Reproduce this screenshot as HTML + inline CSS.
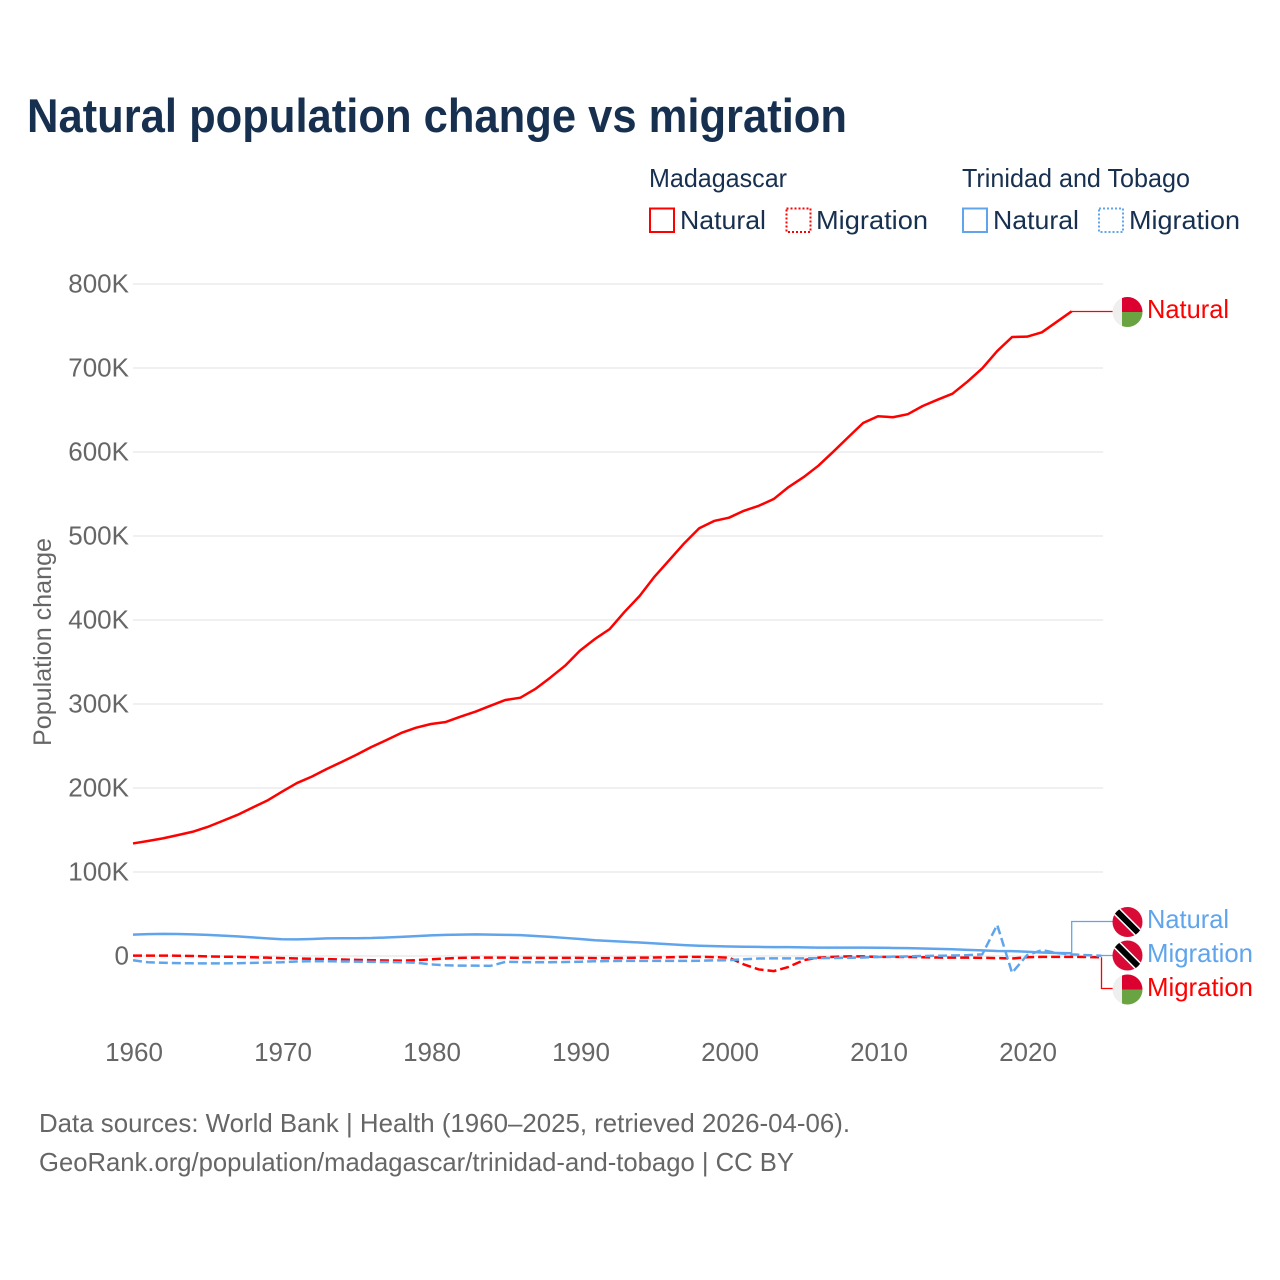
<!DOCTYPE html>
<html lang="en">
<head>
<meta charset="utf-8">
<title>Natural population change vs migration</title>
<style>
html,body{margin:0;padding:0;background:#fff}
svg{display:block}
text{font-family:"Liberation Sans",sans-serif}
</style>
</head>
<body>
<svg id="chart" xmlns="http://www.w3.org/2000/svg" width="1280" height="1280" viewBox="0 0 1280 1280">
  <defs>
    <clipPath id="c1"><circle cx="1127.5" cy="312" r="15"/></clipPath>
    <clipPath id="c2"><circle cx="1127.5" cy="922" r="15"/></clipPath>
    <clipPath id="c3"><circle cx="1127.5" cy="955.5" r="15"/></clipPath>
    <clipPath id="c4"><circle cx="1127.5" cy="989.5" r="15"/></clipPath>
  </defs>
  <text x="27" y="132" font-size="47" font-weight="700" fill="#17304f" textLength="820" lengthAdjust="spacingAndGlyphs">Natural population change vs migration</text>

  <g font-size="26" fill="#17304f">
    <text x="649" y="187" textLength="138" lengthAdjust="spacingAndGlyphs">Madagascar</text>
    <text x="962" y="187" textLength="228" lengthAdjust="spacingAndGlyphs">Trinidad and Tobago</text>
    <rect x="650" y="208.5" width="24" height="23.5" fill="none" stroke="#ff0000" stroke-width="2"/>
    <text x="680" y="229" textLength="86" lengthAdjust="spacingAndGlyphs">Natural</text>
    <rect x="786.5" y="208.5" width="24" height="23.5" fill="none" stroke="#ff0000" stroke-width="2" stroke-dasharray="2 2"/>
    <text x="816" y="229" textLength="112" lengthAdjust="spacingAndGlyphs">Migration</text>
    <rect x="963" y="208.5" width="24" height="23.5" fill="none" stroke="#60a5ec" stroke-width="2"/>
    <text x="993" y="229" textLength="86" lengthAdjust="spacingAndGlyphs">Natural</text>
    <rect x="1099" y="208.5" width="24" height="23.5" fill="none" stroke="#60a5ec" stroke-width="2" stroke-dasharray="2 2"/>
    <text x="1129" y="229" textLength="111" lengthAdjust="spacingAndGlyphs">Migration</text>
  </g>

  <g id="grid"></g>
  <g id="yticks" font-size="26" fill="#666666"></g>
  <g id="xticks" font-size="26" fill="#666666"></g>
  <text transform="translate(51,642) rotate(-90)" text-anchor="middle" font-size="25" fill="#666666" textLength="208" lengthAdjust="spacingAndGlyphs">Population change</text>

  <g id="leaders" fill="none" stroke-width="1.3"></g>
  <g id="series" fill="none" stroke-width="2.5" stroke-linejoin="round"></g>

  <g clip-path="url(#c1)">
    <rect x="1112" y="296" width="31" height="32" fill="#efefef"/>
    <rect x="1122" y="296" width="21" height="16" fill="#dc0030"/>
    <rect x="1122" y="312" width="21" height="16" fill="#6aa342"/>
  </g>
  <g clip-path="url(#c2)">
    <rect x="1112" y="906" width="31" height="32" fill="#d90a35"/>
    <line x1="1113" y1="907.5" x2="1142" y2="936.5" stroke="#fff" stroke-width="9"/>
    <line x1="1113" y1="907.5" x2="1142" y2="936.5" stroke="#000" stroke-width="6"/>
  </g>
  <g clip-path="url(#c3)">
    <rect x="1112" y="940" width="31" height="32" fill="#d90a35"/>
    <line x1="1113" y1="941" x2="1142" y2="970" stroke="#fff" stroke-width="9"/>
    <line x1="1113" y1="941" x2="1142" y2="970" stroke="#000" stroke-width="6"/>
  </g>
  <g clip-path="url(#c4)">
    <rect x="1112" y="974" width="31" height="32" fill="#efefef"/>
    <rect x="1122" y="974" width="21" height="15.5" fill="#dc0030"/>
    <rect x="1122" y="989.5" width="21" height="16" fill="#6aa342"/>
  </g>

  <g font-size="26">
    <text x="1147" y="318" fill="#ff0000" textLength="82" lengthAdjust="spacingAndGlyphs">Natural</text>
    <text x="1147" y="928" fill="#60a5ec" textLength="82" lengthAdjust="spacingAndGlyphs">Natural</text>
    <text x="1147" y="962" fill="#60a5ec" textLength="106" lengthAdjust="spacingAndGlyphs">Migration</text>
    <text x="1147" y="996" fill="#ff0000" textLength="106" lengthAdjust="spacingAndGlyphs">Migration</text>
  </g>

  <g font-size="26" fill="#666666">
    <text x="39" y="1132" textLength="811" lengthAdjust="spacingAndGlyphs">Data sources: World Bank | Health (1960–2025, retrieved 2026-04-06).</text>
    <text x="39" y="1171" textLength="755" lengthAdjust="spacingAndGlyphs">GeoRank.org/population/madagascar/trinidad-and-tobago | CC BY</text>
  </g>
</svg>
<script>
const startYear = 1960;
const xTickYears = [1960, 1970, 1980, 1990, 2000, 2010, 2020];
const yTickValues = [0, 100, 200, 300, 400, 500, 600, 700, 800];
const madagascarNatural = [134,136.9,140,143.9,147.9,153.6,160.7,167.9,176.5,184.9,195.6,205.9,213.5,222.6,231,239.6,248.8,257,265.5,271.8,276.2,278.6,285,291,298,304.8,307.5,317.9,331.3,345.6,363.5,377.4,389.3,409.9,428.6,451.6,471.4,491.4,509.2,517.9,521.8,530,536,544,558.3,570,583.7,600.4,617.6,634.5,642.6,641.4,645,654.8,662.3,669.4,683.7,699.6,720.2,736.9,737.3,742.5,755,767.5];
const madagascarMigration = [0.5,0.5,0.5,0.3,0,-0.5,-0.8,-1,-1.5,-2,-2.5,-3,-3.3,-3.7,-4.2,-4.6,-5,-5.3,-5.5,-5,-4,-3,-2.2,-2,-2,-2,-2.2,-2.2,-2.2,-2.2,-2.3,-2.5,-2.5,-2.3,-2,-1.8,-1.5,-1,-1,-1.3,-2,-10,-16,-18,-13,-5,-2,-1,-0.5,-0.5,-1,-1,-1.2,-1.5,-1.8,-2,-2,-2.2,-2.5,-3,-1.5,-1,-1,-1,-1.2,-1.5];
const trinidadNatural = [25.5,26,26.3,26.2,25.8,25.2,24.3,23.3,22.2,21,20,19.8,20.3,21,21.2,21.2,21.4,22,22.8,23.6,24.5,25.2,25.5,25.7,25.5,25.2,24.8,23.8,22.8,21.5,20.2,18.8,17.8,17,16,15,14,13,12.2,11.7,11.3,11,10.8,10.6,10.5,10.2,10,10,10,10,9.8,9.6,9.4,9,8.5,8,7.3,6.7,6,5.8,5,4.2,3.6,3.2];
const trinidadMigration = [-5,-7.5,-8,-8.5,-8.7,-8.8,-8.8,-8.6,-8.2,-7.8,-7.5,-6.5,-6.3,-6.3,-6.5,-6.7,-7,-7.2,-7.5,-8,-10,-11,-11.5,-11.5,-11.7,-7,-7.2,-7.5,-7.5,-7.2,-6.8,-6.3,-6,-5.8,-5.8,-5.8,-5.8,-5.8,-5.7,-5.2,-5,-3.8,-3,-2.8,-2.8,-2.8,-2.6,-2.4,-2.2,-1.8,-1.2,-0.8,-0.5,0,0.3,0.6,1,2,37,-20,1,7,3.5,2,1,0.3];
const xScale = function (year) { return 133 + (year - startYear) * 14.9; };
const yScale = function (k) { return 956 - k * 0.84; };
const NS = 'http://www.w3.org/2000/svg';
const seriesGroup = document.getElementById('series');
const leaderGroup = document.getElementById('leaders');
const gridGroup = document.getElementById('grid');
const yTickGroup = document.getElementById('yticks');
const xTickGroup = document.getElementById('xticks');

yTickValues.forEach(function (v) {
  const line = document.createElementNS(NS, 'line');
  
  
  line.setAttribute('x1', 133);
  line.setAttribute('x2', 1103);
  line.setAttribute('y1', yScale(v));
  line.setAttribute('y2', yScale(v));
  line.setAttribute('stroke', '#e8e8e8');
  line.setAttribute('stroke-width', '1.2');
  gridGroup.appendChild(line);
  const label = document.createElementNS(NS, 'text');
  
  
  label.setAttribute('x', 129);
  label.setAttribute('y', yScale(v) + 8.5);
  label.setAttribute('text-anchor', 'end');
  label.textContent = v === 0 ? '0' : v + 'K';
  yTickGroup.appendChild(label);
});

xTickYears.forEach(function (y) {
  const label = document.createElementNS(NS, 'text');
  
  
  label.setAttribute('x', xScale(y) + 1);
  label.setAttribute('y', 1061);
  label.setAttribute('text-anchor', 'middle');
  label.textContent = String(y);
  xTickGroup.appendChild(label);
});

function pointsFor(values) {
  return values.map(function (v, i) {
    return xScale(startYear + i).toFixed(2) + ',' + yScale(v).toFixed(2);
  }).join(' ');
}

function drawSeries(values, color, dashed, name) {
  const line = document.createElementNS(NS, 'polyline');
  
  
  line.setAttribute('points', pointsFor(values));
  line.setAttribute('stroke', color);
  if (dashed) { line.setAttribute('stroke-dasharray', '9 4'); }
  seriesGroup.appendChild(line);
}

function drawLeader(values, color, labelY, name) {
  const endX = xScale(startYear + values.length - 1);
  const endY = yScale(values[values.length - 1]);
  const path = document.createElementNS(NS, 'polyline');
  
  
  path.setAttribute('points', endX + ',' + endY + ' ' + endX + ',' + labelY + ' 1113,' + labelY);
  path.setAttribute('stroke', color);
  leaderGroup.appendChild(path);
}

drawLeader(madagascarNatural, '#ff0000', 311.5, 'leader-madagascar-natural');
drawLeader(trinidadNatural, '#60a5ec', 921.5, 'leader-trinidad-natural');
drawLeader(trinidadMigration, '#60a5ec', 955.5, 'leader-trinidad-migration');
drawLeader(madagascarMigration, '#ff0000', 988.5, 'leader-madagascar-migration');

drawSeries(madagascarNatural, '#ff0000', false, 'line-madagascar-natural');
drawSeries(madagascarMigration, '#ff0000', true, 'line-madagascar-migration');
drawSeries(trinidadNatural, '#60a5ec', false, 'line-trinidad-natural');
drawSeries(trinidadMigration, '#60a5ec', true, 'line-trinidad-migration');
</script>
</body>
</html>
